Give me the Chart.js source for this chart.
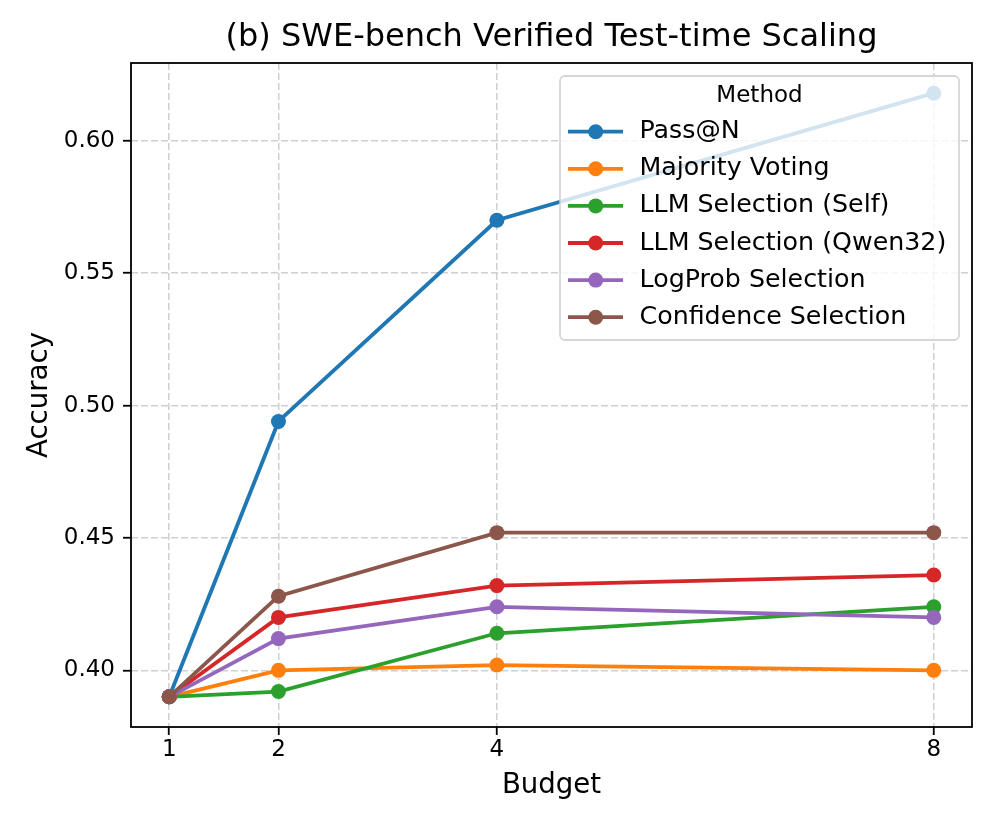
<!DOCTYPE html>
<html>
<head>
<meta charset="utf-8">
<title>SWE-bench Verified Test-time Scaling</title>
<script src="https://cdn.jsdelivr.net/npm/chart.js@4.4.1/dist/chart.umd.min.js"></script>
<style>
  body { margin: 0; background: #fff; }
  canvas { display: block; }
</style>
</head>
<body>
<canvas id="scalingChart" width="997" height="830"></canvas>
<script>
// data
const budgets = [1, 2, 4, 8];
const passAtN = [0.390, 0.494, 0.570, 0.618];
const majorityVoting = [0.390, 0.400, 0.402, 0.400];
const llmSelf = [0.390, 0.392, 0.414, 0.424];
const llmQwen32 = [0.390, 0.420, 0.432, 0.436];
const logProbSel = [0.390, 0.412, 0.424, 0.420];
const confidenceSel = [0.390, 0.428, 0.452, 0.452];
const methodNames = ["Pass@N", "Majority Voting", "LLM Selection (Self)", "LLM Selection (Qwen32)", "LogProb Selection", "Confidence Selection"];
const xTicks = [1, 2, 4, 8];
const yTicks = [0.40, 0.45, 0.50, 0.55, 0.60];

const seriesList = [passAtN, majorityVoting, llmSelf, llmQwen32, logProbSel, confidenceSel];
const colors = ["#1f77b4", "#ff7f0e", "#2ca02c", "#d62728", "#9467bd", "#8c564b"];
const FONT = "'DejaVu Sans', sans-serif";

// matplotlib style 5% margins
const allY = [].concat(...seriesList);
const xSpan = Math.max(...budgets) - Math.min(...budgets);
const ySpan = Math.max(...allY) - Math.min(...allY);
const xMin = Math.min(...budgets) - 0.05 * xSpan;
const xMax = Math.max(...budgets) + 0.05 * xSpan;
const yMin = Math.min(...allY) - 0.05 * ySpan;
const yMax = Math.max(...allY) + 0.05 * ySpan;

const datasets = seriesList.map(function (vals, i) {
    return {
        label: methodNames[i],
        data: budgets.map(function (b, j) { return { x: b, y: vals[j] }; }),
        borderColor: colors[i],
        backgroundColor: colors[i],
        borderWidth: 3.8,
        pointRadius: 7.5,
        pointHoverRadius: 7.5,
        pointBorderWidth: 0,
        pointBackgroundColor: colors[i],
        tension: 0,
        order: seriesList.length - i   // later series on top, like matplotlib
    };
});

// frame around the plot area
const framePlugin = {
    id: "frame",
    afterDatasetsDraw(chart) {
        const a = chart.chartArea;
        const ctx = chart.ctx;
        ctx.save();
        ctx.strokeStyle = "#000";
        ctx.lineWidth = 1.8;
        ctx.strokeRect(a.left, a.top, a.right - a.left, a.bottom - a.top);
        ctx.restore();
    }
};

// title + legend drawn over the data
const overlayPlugin = {
    id: "overlay",
    afterDraw(chart) {
        const ctx = chart.ctx;
        const a = chart.chartArea;
        ctx.save();

        ctx.fillStyle = "#000";
        ctx.font = "32px " + FONT;
        ctx.textAlign = "center";
        ctx.textBaseline = "middle";
        ctx.fillText("(b) SWE-bench Verified Test-time Scaling", (a.left + a.right) / 2, 38);

        // legend box
        const bx = 560, by = 76, bw = 399, bh = 264;
        ctx.beginPath();
        ctx.roundRect(bx, by, bw, bh, 5);
        ctx.fillStyle = "rgba(255,255,255,0.8)";
        ctx.fill();
        ctx.strokeStyle = "rgba(204,204,204,0.8)";
        ctx.lineWidth = 1.8;
        ctx.stroke();

        ctx.fillStyle = "#000";
        ctx.font = "23px " + FONT;
        ctx.textAlign = "center";
        ctx.fillText("Method", bx + bw / 2, 96);

        ctx.font = "25.3px " + FONT;
        ctx.textAlign = "left";
        for (let i = 0; i < methodNames.length; i++) {
            let y = 131.7 + i * 37.1;
            ctx.strokeStyle = colors[i];
            ctx.lineWidth = 3.8;
            ctx.beginPath();
            ctx.moveTo(568, y);
            ctx.lineTo(623, y);
            ctx.stroke();
            ctx.fillStyle = colors[i];
            ctx.beginPath();
            ctx.arc(595.7, y, 7.5, 0, Math.PI * 2);
            ctx.fill();
            ctx.fillStyle = "#000";
            ctx.fillText(methodNames[i], 639.5, y);
        }
        ctx.restore();
    }
};

const ctx = document.getElementById("scalingChart").getContext("2d");

new Chart(ctx, {
    type: "line",
    data: { datasets: datasets },
    plugins: [framePlugin, overlayPlugin],
    options: {
        responsive: false,
        animation: false,
        devicePixelRatio: 1,
        layout: { padding: { left: 0, right: 25, top: 63, bottom: 0 } },
        plugins: {
            legend: { display: false },
            title: { display: false },
            tooltip: { enabled: false }
        },
        scales: {
            x: {
                type: "linear",
                min: xMin,
                max: xMax,
                afterBuildTicks: function (axis) {
                    axis.ticks = xTicks.map(function (v) { return { value: v }; });
                },
                afterFit: function (axis) { axis.height = 103; },
                ticks: {
                    color: "#000",
                    font: { family: FONT, size: 23 },
                    padding: 1,
                    maxRotation: 0,
                    callback: function (v) { return String(v); }
                },
                grid: {
                    color: "#d0d0d0",
                    lineWidth: 1.5,
                    tickLength: 8,
                    tickColor: "#000",
                    tickWidth: 1.8,
                    tickBorderDash: []
                },
                border: { display: false, dash: [7, 3] },
                title: {
                    display: true,
                    text: "Budget",
                    color: "#000",
                    font: { family: FONT, size: 27.6 },
                    padding: { top: 0, bottom: 28 }
                }
            },
            y: {
                type: "linear",
                min: yMin,
                max: yMax,
                afterBuildTicks: function (axis) {
                    axis.ticks = yTicks.map(function (v) { return { value: v }; });
                },
                afterFit: function (axis) { axis.width = 131; },
                ticks: {
                    color: "#000",
                    font: { family: FONT, size: 23 },
                    padding: 8,
                    callback: function (v) { return v.toFixed(2); }
                },
                grid: {
                    color: "#d0d0d0",
                    lineWidth: 1.5,
                    tickLength: 8,
                    tickColor: "#000",
                    tickWidth: 1.8,
                    tickBorderDash: []
                },
                border: { display: false, dash: [7, 3] },
                title: {
                    display: true,
                    text: "Accuracy",
                    color: "#000",
                    font: { family: FONT, size: 27.6 },
                    padding: { top: 23, bottom: 0 }
                }
            }
        }
    }
});
</script>
</body>
</html>
